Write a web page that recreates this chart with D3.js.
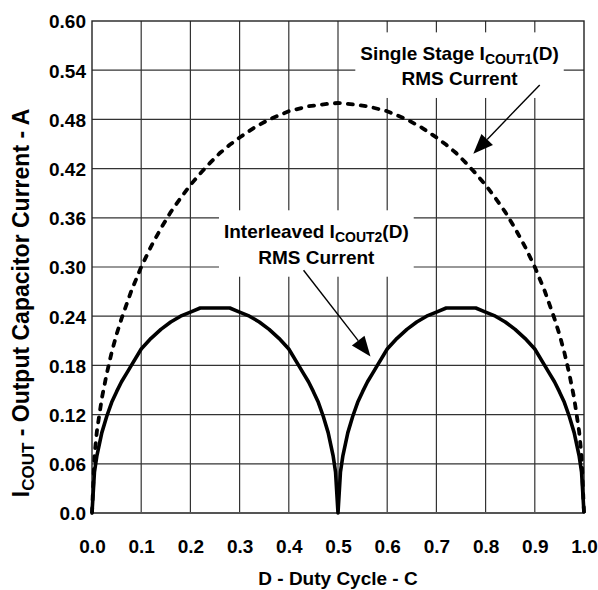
<!DOCTYPE html>
<html>
<head>
<meta charset="utf-8">
<script src="https://cdn.jsdelivr.net/npm/d3@7/dist/d3.min.js"></script>
<style>
  html, body { margin: 0; padding: 0; background: #fff; }
  svg { display: block; }
  text { font-family: "Liberation Sans", Arial, Helvetica, sans-serif; font-weight: bold; fill: #000; }
</style>
</head>
<body>
<svg id="chart" width="598" height="590"></svg>
<script>
// ---- data ----
const xTicks = [0, 0.1, 0.2, 0.3, 0.4, 0.5, 0.6, 0.7, 0.8, 0.9, 1.0];
const xTickLabels = ["0.0", "0.1", "0.2", "0.3", "0.4", "0.5", "0.6", "0.7", "0.8", "0.9", "1.0"];
const yTicks = [0, 0.06, 0.12, 0.18, 0.24, 0.30, 0.36, 0.42, 0.48, 0.54, 0.60];
const yTickLabels = ["0.0", "0.06", "0.12", "0.18", "0.24", "0.30", "0.36", "0.42", "0.48", "0.54", "0.60"];

// Single stage I_COUT1(D) RMS current (dashed)
const singleD = [0, 0.005, 0.01, 0.02, 0.03, 0.04, 0.05, 0.06, 0.08, 0.10, 0.12, 0.14, 0.16, 0.18, 0.20, 0.22, 0.24, 0.26, 0.28, 0.30, 0.33, 0.36, 0.40, 0.44, 0.48, 0.50,
                 0.52, 0.56, 0.60, 0.64, 0.67, 0.70, 0.72, 0.74, 0.76, 0.78, 0.80, 0.82, 0.84, 0.86, 0.88, 0.90, 0.92, 0.94, 0.95, 0.96, 0.97, 0.98, 0.99, 0.995, 1.0];
const singleI = [0, 0.07, 0.10, 0.14, 0.17, 0.196, 0.218, 0.237, 0.271, 0.30, 0.325, 0.347, 0.367, 0.384, 0.40, 0.414, 0.427, 0.439, 0.449, 0.458, 0.470, 0.480, 0.490, 0.496, 0.499, 0.50,
                 0.499, 0.496, 0.490, 0.480, 0.470, 0.458, 0.449, 0.439, 0.427, 0.414, 0.40, 0.384, 0.367, 0.347, 0.325, 0.30, 0.271, 0.237, 0.218, 0.196, 0.17, 0.14, 0.10, 0.07, 0];

// Interleaved I_COUT2(D) RMS current (solid)
const interD = [0, 0.005, 0.01, 0.02, 0.03, 0.04, 0.05, 0.06, 0.07, 0.08, 0.10, 0.12, 0.14, 0.16, 0.18, 0.20, 0.22, 0.28, 0.30, 0.32, 0.34, 0.36, 0.38, 0.40, 0.42, 0.43, 0.44, 0.45, 0.46, 0.47, 0.48, 0.49, 0.495, 0.50,
                0.505, 0.51, 0.52, 0.53, 0.54, 0.55, 0.56, 0.57, 0.58, 0.60, 0.62, 0.64, 0.66, 0.68, 0.70, 0.72, 0.78, 0.80, 0.82, 0.84, 0.86, 0.88, 0.90, 0.92, 0.93, 0.94, 0.95, 0.96, 0.97, 0.98, 0.99, 0.995, 1.0];
const interI = [0, 0.05, 0.07, 0.098, 0.118, 0.135, 0.148, 0.16, 0.17, 0.18, 0.20, 0.213, 0.224, 0.233, 0.24, 0.245, 0.25, 0.25, 0.245, 0.24, 0.233, 0.224, 0.213, 0.20, 0.18, 0.17, 0.16, 0.148, 0.135, 0.118, 0.098, 0.07, 0.05, 0,
                0.05, 0.07, 0.098, 0.118, 0.135, 0.148, 0.16, 0.17, 0.18, 0.20, 0.213, 0.224, 0.233, 0.24, 0.245, 0.25, 0.25, 0.245, 0.24, 0.233, 0.224, 0.213, 0.20, 0.18, 0.17, 0.16, 0.148, 0.135, 0.118, 0.098, 0.07, 0.05, 0];

// annotations (data coordinates)
const annSingle = { line1: "Single Stage I", sub: "COUT1", tail: "(D)", line2: "RMS Current", x: 0.747, y1: 0.552, y2: 0.522,
                    arrowFrom: [0.910, 0.522], arrowTo: [0.775, 0.438] };
const annInter = { line1: "Interleaved I", sub: "COUT2", tail: "(D)", line2: "RMS Current", x: 0.456, y1: 0.335, y2: 0.304,
                   arrowFrom: [0.430, 0.296], arrowTo: [0.566, 0.191] };

const xTitle = "D - Duty Cycle - C";
const yTitleMain = "I", yTitleSub = "COUT", yTitleTail = " - Output Capacitor Current - A";

// ---- layout ----
const svg = d3.select("#chart");
const L = 92, R = 584, T = 21, B = 513;
const x = d3.scaleLinear().domain([0, 1]).range([L, R]);
const y = d3.scaleLinear().domain([0, 0.6]).range([B, T]);

// grid
const grid = svg.append("g");
grid.selectAll("line.v").data(xTicks.slice(1, -1)).join("line")
  .attr("x1", d => x(d)).attr("x2", d => x(d)).attr("y1", T).attr("y2", B)
  .attr("stroke", "#333").attr("stroke-width", 1.2);
grid.selectAll("line.h").data(yTicks.slice(1, -1)).join("line")
  .attr("x1", L).attr("x2", R).attr("y1", d => y(d)).attr("y2", d => y(d))
  .attr("stroke", "#333").attr("stroke-width", 1.2);

// frame
svg.append("rect").attr("x", L).attr("y", T).attr("width", R - L).attr("height", B - T)
  .attr("fill", "none").attr("stroke", "#222").attr("stroke-width", 1.4);
svg.append("line").attr("x1", L).attr("x2", R).attr("y1", B).attr("y2", B)
  .attr("stroke", "#555").attr("stroke-width", 2);

// axes labels via d3 axes
const xAxis = d3.axisBottom(x).tickValues(xTicks).tickFormat((d, i) => xTickLabels[i]).tickSize(0).tickPadding(0);
const gx = svg.append("g").attr("transform", `translate(0,${B})`).call(xAxis);
gx.select(".domain").remove();
gx.selectAll("text").attr("font-size", 19).attr("font-family", "Liberation Sans, Arial, sans-serif")
  .attr("font-weight", "bold").attr("fill", "#000").attr("dy", null).attr("y", 40);

const yAxis = d3.axisLeft(y).tickValues(yTicks).tickFormat((d, i) => yTickLabels[i]).tickSize(0).tickPadding(6);
const gy = svg.append("g").attr("transform", `translate(${L},0)`).call(yAxis);
gy.select(".domain").remove();
gy.selectAll("text").attr("font-size", 19).attr("font-family", "Liberation Sans, Arial, sans-serif")
  .attr("font-weight", "bold").attr("fill", "#000").attr("dy", "0.36em");

// axis titles
svg.append("text").attr("x", (L + R) / 2).attr("y", 585).attr("text-anchor", "middle")
  .attr("font-size", 19).text(xTitle);
const yt = svg.append("text").attr("transform", `translate(29,${(T + B) / 2 + 36}) rotate(-90)`)
  .attr("text-anchor", "middle").attr("font-size", 23);
yt.append("tspan").text(yTitleMain);
yt.append("tspan").attr("font-size", 17).attr("dy", 5).text(yTitleSub);
yt.append("tspan").attr("dy", -5).text(yTitleTail);

// annotation text with white boxes
function annotate(a) {
  const g = svg.append("g");
  const bg = g.append("rect").attr("fill", "#fff");
  const t1 = g.append("text").attr("x", x(a.x)).attr("y", y(a.y1)).attr("text-anchor", "middle").attr("font-size", 19);
  t1.append("tspan").text(a.line1);
  t1.append("tspan").attr("font-size", 14).attr("dy", 4).text(a.sub);
  t1.append("tspan").attr("dy", -4).text(a.tail);
  g.append("text").attr("x", x(a.x)).attr("y", y(a.y2)).attr("text-anchor", "middle").attr("font-size", 19).text(a.line2);
  const bb = g.node().getBBox();
  bg.attr("x", bb.x - 5).attr("y", bb.y - 11).attr("width", bb.width + 10).attr("height", bb.height + 20);
}
annotate(annSingle);
annotate(annInter);

// curves
const line = d3.line().x(d => x(d[0])).y(d => y(d[1]));
svg.append("path").datum(singleD.map((d, i) => [d, singleI[i]]))
  .attr("d", line).attr("fill", "none").attr("stroke", "#000").attr("stroke-width", 3.8)
  .attr("stroke-dasharray", "5,8").attr("stroke-linecap", "round");
svg.append("path").datum(interD.map((d, i) => [d, interI[i]]))
  .attr("d", line).attr("fill", "none").attr("stroke", "#000").attr("stroke-width", 3.6)
  .attr("stroke-linejoin", "round");

// arrows
function arrow(a) {
  const x0 = x(a.arrowFrom[0]), y0 = y(a.arrowFrom[1]);
  const x1 = x(a.arrowTo[0]), y1 = y(a.arrowTo[1]);
  const ang = Math.atan2(y1 - y0, x1 - x0);
  const len = 20, half = 8;
  const bx = x1 - len * Math.cos(ang), by = y1 - len * Math.sin(ang);
  svg.append("line").attr("x1", x0).attr("y1", y0).attr("x2", bx).attr("y2", by)
    .attr("stroke", "#000").attr("stroke-width", 1.4);
  const px = -Math.sin(ang) * half, py = Math.cos(ang) * half;
  svg.append("path").attr("d", `M${x1},${y1}L${bx + px},${by + py}L${bx - px},${by - py}Z`).attr("fill", "#000");
}
arrow(annSingle);
arrow(annInter);
</script>
</body>
</html>
